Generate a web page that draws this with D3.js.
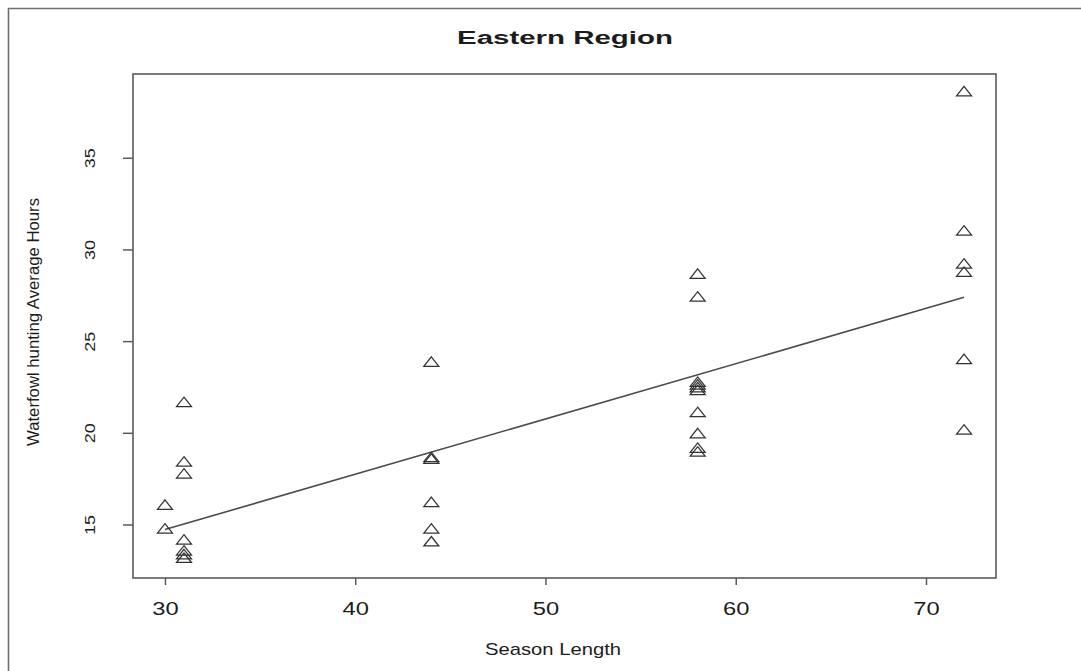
<!DOCTYPE html>
<html>
<head>
<meta charset="utf-8">
<script src="https://cdn.jsdelivr.net/npm/d3@7"></script>
<style>
  html, body { margin: 0; padding: 0; background: #fff; }
  svg { display: block; }
  text { font-family: "Liberation Sans", Arial, sans-serif; fill: #1c1c1c; }
</style>
</head>
<body>
<svg id="chart" width="1081" height="671"></svg>
<script>
// Season length (days) and average waterfowl hunting hours, one entry per observation
const seasonLength = [
  30, 30,
  31, 31, 31, 31, 31, 31, 31,
  44, 44, 44, 44, 44, 44,
  58, 58, 58, 58, 58, 58, 58, 58, 58, 58,
  72, 72, 72, 72, 72, 72
];
const averageHours = [
  16.0, 14.7,
  21.6, 18.35, 17.7, 14.1, 13.5, 13.3, 13.1,
  23.8, 18.6, 18.5, 16.15, 14.7, 14.0,
  28.6, 27.35, 22.7, 22.55, 22.4, 22.25, 21.05, 19.9, 19.1, 18.9,
  38.55, 30.95, 29.15, 28.7, 23.95, 20.1
];
const xTicks = [30, 40, 50, 60, 70];
const yTicks = [15, 20, 25, 30, 35];
const chartTitle = "Eastern Region";
const xTitle = "Season Length";
const yTitle = "Waterfowl hunting Average Hours";

const svg = d3.select("#chart");
const plot = { left: 133, right: 996, top: 74, bottom: 578 };
const ink = "#1c1c1c", frame = "#5a5a5a";

// data range widened by 4% on each side
function padded(ext) {
  const r = ext[1] - ext[0];
  return [ext[0] - 0.04 * r, ext[1] + 0.04 * r];
}
const x = d3.scaleLinear().domain(padded(d3.extent(seasonLength))).range([plot.left, plot.right]);
const y = d3.scaleLinear().domain(padded(d3.extent(averageHours))).range([plot.bottom, plot.top]);

// outer figure border (top and left edges)
svg.append("path")
  .attr("d", "M8.5,671 L8.5,8.5 L1081,8.5")
  .attr("fill", "none").attr("stroke", "#6e6e6e").attr("stroke-width", 1.6);

// title
svg.append("text")
  .attr("transform", "translate(565,44) scale(1.55,1)")
  .attr("text-anchor", "middle")
  .attr("font-size", 19).attr("font-weight", "bold")
  .text(chartTitle);

// x axis
const xAxis = svg.append("g")
  .attr("transform", `translate(0,${plot.bottom})`)
  .call(d3.axisBottom(x).tickValues(xTicks).tickSize(7).tickFormat(d3.format("d")));
xAxis.select(".domain").remove();
xAxis.selectAll(".tick line").attr("stroke", frame).attr("stroke-width", 1.5);
xAxis.selectAll(".tick text")
  .attr("y", null).attr("dy", null)
  .attr("transform", "translate(0,37) scale(1.32,1)")
  .attr("font-size", 18).attr("fill", ink)
  .attr("font-family", "Liberation Sans, Arial, sans-serif");

// y axis
const yAxis = svg.append("g")
  .attr("transform", `translate(${plot.left},0)`)
  .call(d3.axisLeft(y).tickValues(yTicks).tickSize(10).tickFormat(d3.format("d")));
yAxis.select(".domain").remove();
yAxis.selectAll(".tick line").attr("stroke", frame).attr("stroke-width", 1.5);
yAxis.selectAll(".tick text")
  .attr("x", null).attr("dy", null)
  .attr("transform", "translate(-38,0) scale(0.85,1) rotate(-90)")
  .attr("text-anchor", "middle")
  .attr("font-size", 18).attr("fill", ink)
  .attr("font-family", "Liberation Sans, Arial, sans-serif");

// axis titles
svg.append("text")
  .attr("transform", "translate(553,655) scale(1.19,1)")
  .attr("text-anchor", "middle")
  .attr("font-size", 17)
  .text(xTitle);

svg.append("text")
  .attr("transform", "translate(38.5,322) rotate(-90)")
  .attr("text-anchor", "middle")
  .attr("font-size", 17)
  .attr("textLength", 248).attr("lengthAdjust", "spacingAndGlyphs")
  .text(yTitle);

// plot box
svg.append("rect")
  .attr("x", plot.left).attr("y", plot.top)
  .attr("width", plot.right - plot.left).attr("height", plot.bottom - plot.top)
  .attr("fill", "none").attr("stroke", frame).attr("stroke-width", 1.6);

// least-squares fit of hours on season length
const mx = d3.mean(seasonLength), my = d3.mean(averageHours);
let sxy = 0, sxx = 0;
seasonLength.forEach((v, i) => {
  sxy += (v - mx) * (averageHours[i] - my);
  sxx += (v - mx) * (v - mx);
});
const slope = sxy / sxx, intercept = my - slope * mx;
const fitX = d3.extent(seasonLength);
svg.append("line")
  .attr("x1", x(fitX[0])).attr("y1", y(intercept + slope * fitX[0]))
  .attr("x2", x(fitX[1])).attr("y2", y(intercept + slope * fitX[1]))
  .attr("stroke", "#4a4a4a").attr("stroke-width", 1.6);

// open triangle markers, centred on their centroid
const tw = 15, th = 9.5;
const tri = `M0,${-2 * th / 3} L${tw / 2},${th / 3} L${-tw / 2},${th / 3} Z`;
svg.append("g").selectAll("path")
  .data(seasonLength.map((v, i) => [v, averageHours[i]]))
  .join("path")
  .attr("d", tri)
  .attr("transform", d => `translate(${x(d[0])},${y(d[1])})`)
  .attr("fill", "none").attr("stroke", "#333").attr("stroke-width", 1.25);
</script>
</body>
</html>
